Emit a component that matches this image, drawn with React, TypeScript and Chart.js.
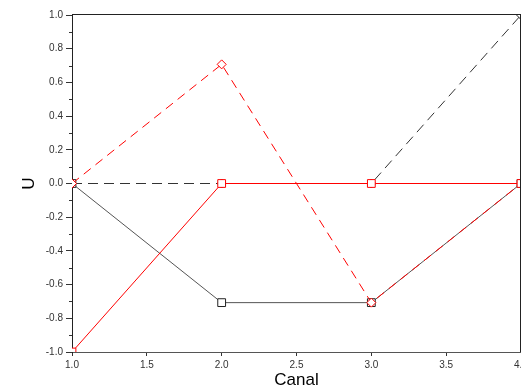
import React, { useEffect, useRef } from "react";
import { Chart, registerables } from "chart.js";

Chart.register(...registerables);

const xValues = [1, 2, 3, 4];
const redDashed = [0, 0.707, -0.707, 0];
const redSolid = [-1, 0, 0, 0];
const blackDashed = [0, 0, 0, 1];
const blackSolid = [0, -0.707, -0.707, 0];
const yMinorTicks = [-0.9, -0.7, -0.5, -0.3, -0.1, 0.1, 0.3, 0.5, 0.7, 0.9];

const toPoints = (ys: number[]) => ys.map((y, i) => ({ x: xValues[i], y }));

const framePlugin = {
  id: "frame",
  afterDraw(chart: any) {
    const { ctx, chartArea } = chart;
    const ys = chart.scales.y;
    ctx.save();
    ctx.strokeStyle = "#222";
    ctx.lineWidth = 1;
    ctx.beginPath();
    ctx.moveTo(chartArea.left, chartArea.top - 0.5);
    ctx.lineTo(chartArea.right, chartArea.top - 0.5);
    ctx.moveTo(chartArea.right - 0.5, chartArea.top);
    ctx.lineTo(chartArea.right - 0.5, chartArea.bottom);
    ctx.stroke();
    ctx.strokeStyle = "#333";
    ctx.beginPath();
    for (const v of yMinorTicks) {
      const py = Math.round(ys.getPixelForValue(v)) + 0.5;
      ctx.moveTo(chartArea.left - 3, py);
      ctx.lineTo(chartArea.left, py);
    }
    ctx.stroke();
    ctx.restore();
  },
};

const fixX = (scale: any) => {
  scale.height = 36;
  scale.paddingLeft = 0;
  scale.paddingRight = 0;
};
const fixY = (scale: any) => {
  scale.width = 72;
  scale.paddingTop = 0;
  scale.paddingBottom = 0;
};

export default function App() {
  const ref = useRef<HTMLCanvasElement>(null);
  useEffect(() => {
    const chart = new Chart(ref.current!, {
      type: "line",
      data: {
        datasets: [
          {
            order: 0,
            data: toPoints(redSolid),
            borderColor: "#ff0000",
            borderWidth: 1,
            pointStyle: "rect",
            pointRadius: 5.5,
            pointBackgroundColor: "#ffffff",
            pointBorderColor: "#ff0000",
            pointBorderWidth: 1,
          },
          {
            order: 1,
            data: toPoints(redDashed),
            borderColor: "#ff0000",
            borderWidth: 1,
            borderDash: [9, 6],
            pointStyle: "rectRot",
            pointRadius: 4.5,
            pointBackgroundColor: "#ffffff",
            pointBorderColor: "#ff0000",
            pointBorderWidth: 1,
          },
          {
            order: 2,
            data: toPoints(blackDashed),
            borderColor: "#333333",
            borderWidth: 1,
            borderDash: [10, 6],
            pointStyle: "rectRot",
            pointRadius: 4.5,
            pointBackgroundColor: "#ffffff",
            pointBorderColor: "#222222",
            pointBorderWidth: 1,
          },
          {
            order: 3,
            data: toPoints(blackSolid),
            borderColor: "#555555",
            borderWidth: 1,
            pointStyle: "rect",
            pointRadius: 5.5,
            pointBackgroundColor: "#ffffff",
            pointBorderColor: "#222222",
            pointBorderWidth: 1,
          },
        ],
      },
      options: {
        animation: false,
        responsive: false,
        events: [],
        layout: { autoPadding: false, padding: { top: 15, right: 0, bottom: 0, left: 0 } },
        plugins: { legend: { display: false }, tooltip: { enabled: false } },
        elements: { line: { tension: 0 } },
        scales: {
          x: {
            type: "linear",
            min: 1,
            max: 4,
            afterFit: fixX,
            afterUpdate: fixX,
            ticks: {
              stepSize: 0.5,
              padding: 3,
              maxRotation: 0,
              autoSkip: false,
              color: "#333",
              font: { family: "Arial, 'Liberation Sans'", size: 10 },
              callback: (v: any) => Number(v).toFixed(1),
            },
            grid: { drawOnChartArea: false, drawTicks: true, tickLength: 4, tickColor: "#333" },
            border: { display: true, color: "#555", width: 1 },
            title: {
              display: true,
              text: "Canal",
              color: "#000",
              font: { family: "Arial, 'Liberation Sans'", size: 17, lineHeight: 1 },
              padding: { top: 0, bottom: -1 },
            },
          },
          y: {
            type: "linear",
            min: -1,
            max: 1,
            afterFit: fixY,
            afterUpdate: fixY,
            ticks: {
              stepSize: 0.2,
              padding: 3,
              autoSkip: false,
              color: "#333",
              font: { family: "Arial, 'Liberation Sans'", size: 10 },
              callback: (v: any) => {
                const n = Math.round(Number(v) * 10) / 10;
                return (Object.is(n, -0) ? 0 : n).toFixed(1);
              },
            },
            grid: { drawOnChartArea: false, drawTicks: true, tickLength: 6, tickColor: "#333" },
            border: { display: true, color: "#222", width: 1 },
            title: {
              display: true,
              text: "U",
              color: "#000",
              font: { family: "Arial, 'Liberation Sans'", size: 17, lineHeight: 1.2 },
              padding: { top: 19, bottom: 0 },
            },
          },
        },
      },
      plugins: [framePlugin],
    } as any);
    return () => chart.destroy();
  }, []);
  return (
    <div style={{ position: "fixed", left: 0, top: 0, width: 521, height: 388, background: "#fff" }}>
      <canvas ref={ref} width={521} height={388} style={{ width: 521, height: 388 }} />
    </div>
  );
}
